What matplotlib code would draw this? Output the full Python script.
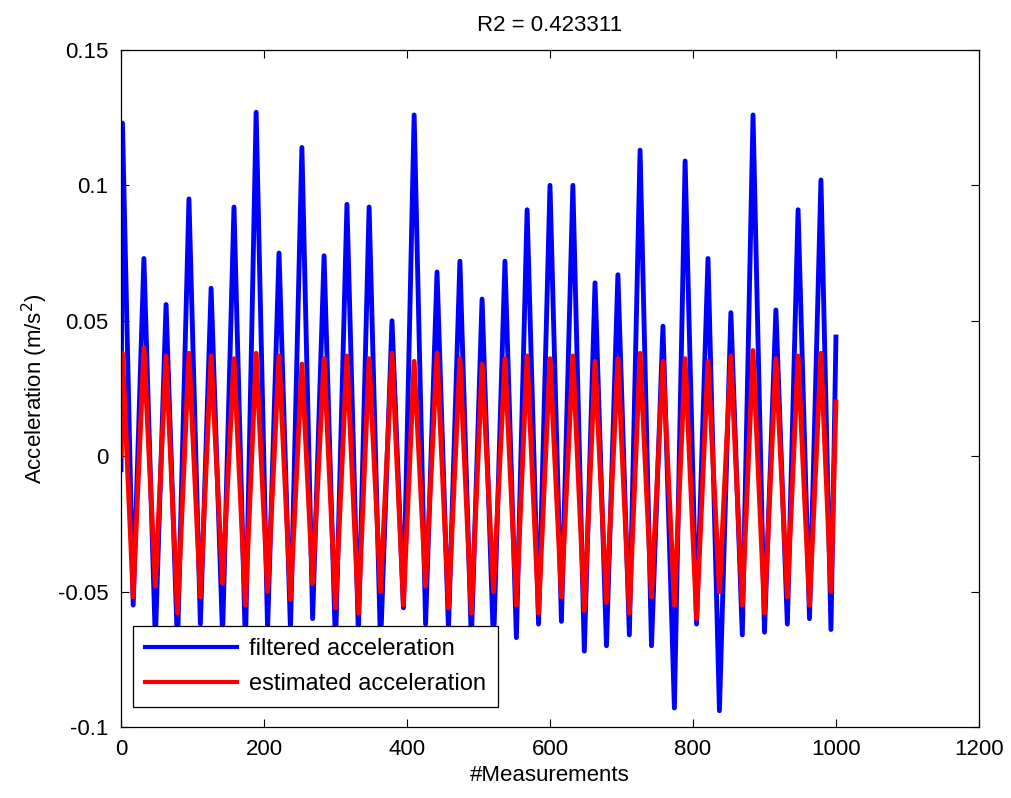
import numpy as np
import matplotlib
matplotlib.use('Agg')
import matplotlib.pyplot as plt

plt.rcParams['font.family'] = ['Liberation Sans', 'DejaVu Sans']

# sample index of each local maximum / minimum
peak_idx = [2, 32, 63, 95, 126, 158, 189, 221, 253, 284, 316, 347, 379, 410, 442, 474,
            505, 537, 568, 600, 632, 663, 695, 726, 758, 789, 821, 853, 884, 916, 947, 979]
trough_idx = [17, 48, 79, 111, 142, 174, 205, 237, 268, 300, 332, 363, 395, 426, 458, 490,
              521, 553, 584, 616, 648, 679, 711, 742, 774, 805, 837, 869, 900, 932, 963, 993]

blue_peak = [0.123, 0.073, 0.056, 0.095, 0.062, 0.092, 0.127, 0.075, 0.114, 0.074, 0.093,
             0.092, 0.050, 0.126, 0.068, 0.072, 0.058, 0.072, 0.091, 0.100, 0.100, 0.064,
             0.067, 0.113, 0.048, 0.109, 0.073, 0.053, 0.126, 0.054, 0.091, 0.102]
blue_trough = [-0.055, -0.068, -0.070, -0.062, -0.066, -0.070, -0.064, -0.064, -0.060, -0.070,
               -0.066, -0.070, -0.056, -0.062, -0.064, -0.068, -0.070, -0.067, -0.062, -0.061,
               -0.072, -0.070, -0.066, -0.070, -0.093, -0.062, -0.094, -0.066, -0.065, -0.062,
               -0.060, -0.064]
red_peak = [0.038, 0.040, 0.037, 0.038, 0.037, 0.036, 0.038, 0.037, 0.034, 0.036, 0.037,
            0.036, 0.038, 0.035, 0.038, 0.036, 0.034, 0.036, 0.037, 0.036, 0.037, 0.035,
            0.036, 0.038, 0.035, 0.036, 0.035, 0.037, 0.039, 0.036, 0.037, 0.038]
red_trough = [-0.052, -0.048, -0.058, -0.052, -0.047, -0.055, -0.050, -0.053, -0.047, -0.056,
              -0.058, -0.050, -0.055, -0.048, -0.056, -0.058, -0.050, -0.055, -0.058, -0.052,
              -0.057, -0.054, -0.058, -0.052, -0.055, -0.060, -0.050, -0.055, -0.058, -0.052,
              -0.055, -0.050]
first_idx, last_idx = 0, 1000
blue_ends = [-0.005, 0.044]
red_ends = [0.000, 0.020]


def build(peaks, troughs, ends):
    x = [first_idx]
    y = [ends[0]]
    for pi, ti, pv, tv in zip(peak_idx, trough_idx, peaks, troughs):
        x += [pi, ti]
        y += [pv, tv]
    x.append(last_idx)
    y.append(ends[1])
    return np.array(x), np.array(y)


xb, yb = build(blue_peak, blue_trough, blue_ends)
xr, yr = build(red_peak, red_trough, red_ends)

fs = 16
fig = plt.figure(figsize=(10.11, 7.98), dpi=100)
ax = fig.add_axes([0.1197, 0.089, 0.8486, 0.8484])

ax.plot(xb, yb, color='#0000ff', lw=3.5, label='filtered acceleration')
ax.plot(xr, yr, color='#ff0000', lw=3.5, label='estimated acceleration')

ax.set_xlim(0, 1200)
ax.set_ylim(-0.1, 0.15)
ax.set_xticks(np.arange(0, 1201, 200))
ax.set_yticks([-0.1, -0.05, 0, 0.05, 0.1, 0.15])
ax.set_yticklabels(['-0.1', '-0.05', '0', '0.05', '0.1', '0.15'])
ax.tick_params(direction='in', top=True, right=True, length=6, width=0.8,
               labelsize=fs, pad=9)
for s in ax.spines.values():
    s.set_linewidth(0.9)

ax.set_title('R2 = 0.423311', fontsize=fs, pad=14)
ax.set_xlabel('#Measurements', fontsize=fs, labelpad=3)
ax.set_ylabel('Acceleration (m/s$^2$)', fontsize=fs, labelpad=6)

leg = ax.legend(loc='lower left', bbox_to_anchor=(0.014, 0.0295), borderaxespad=0,
                fancybox=False, framealpha=1, edgecolor='black', fontsize=17,
                handlelength=3.9, handletextpad=0.5, labelspacing=0.55, borderpad=0.5)
leg.get_frame().set_linewidth(0.9)
for h in leg.get_lines():
    h.set_linewidth(3)
leg.set_zorder(5)

fig.savefig('out.png', dpi=100)
